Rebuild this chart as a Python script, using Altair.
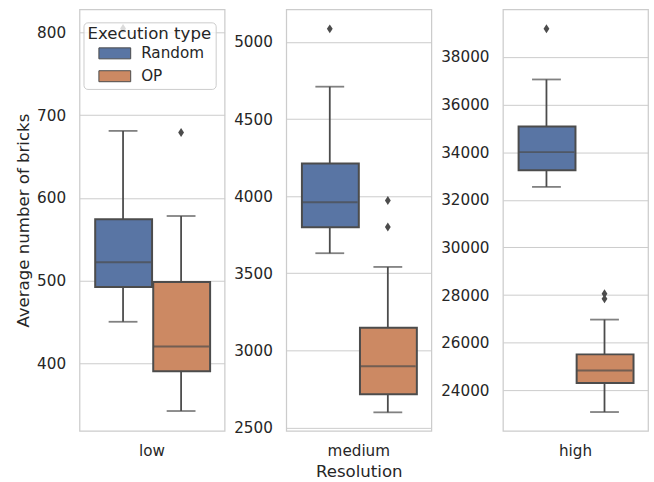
import altair as alt
import pandas as pd

# Resolution levels and execution types
resolutions = ["low", "medium", "high"]
exec_types = ["Random", "OP"]

# Box summaries, one entry per (resolution, execution type)
box_resolution = ["low", "low", "medium", "medium", "high", "high"]
box_type = ["Random", "OP", "Random", "OP", "Random", "OP"]
whisker_low = [450, 342, 3630, 2598, 32540, 23090]
quartile_1 = [492, 390, 3798, 2716, 33240, 24310]
median = [522, 420, 3960, 2897, 34000, 24830]
quartile_3 = [574, 498, 4212, 3147, 35080, 25510]
whisker_high = [681, 578, 4710, 3541, 37050, 26970]

# Outliers beyond the whiskers
outlier_resolution = ["low", "low", "medium", "medium", "medium", "high", "high", "high"]
outlier_type = ["Random", "OP", "Random", "OP", "OP", "Random", "OP", "OP"]
outlier_value = [805, 679, 5085, 3972, 3800, 39180, 28060, 27840]

# Per-panel y range and tick values
y_domain = {"low": [318, 828], "medium": [2478, 5211], "high": [22300, 39990]}
y_ticks = {
    "low": [400, 500, 600, 700, 800],
    "medium": [2500, 3000, 3500, 4000, 4500, 5000],
    "high": [24000, 26000, 28000, 30000, 32000, 34000, 36000, 38000],
}

box_colors = ["#5975a4", "#cc8963"]
LINE = "#4c4c4c"
TEXT = "#262626"
FONT = "DejaVu Sans"

boxes_df = pd.DataFrame({
    "Resolution": box_resolution,
    "Execution type": box_type,
    "lo": whisker_low,
    "q1": quartile_1,
    "med": median,
    "q3": quartile_3,
    "hi": whisker_high,
})
outliers_df = pd.DataFrame({
    "Resolution": outlier_resolution,
    "Execution type": outlier_type,
    "value": outlier_value,
})

DIAMOND = "M0,-1L0.65,0L0,1L-0.65,0Z"
LEGEND_RECT = "M-2,-0.69L2,-0.69L2,0.69L-2,0.69Z"


def panel(res, first, x_title):
    x = alt.X(
        "Resolution:N",
        scale=alt.Scale(paddingInner=0, paddingOuter=0.125),
        axis=alt.Axis(
            title=x_title if x_title else None,
            labelAngle=0, ticks=False, domain=False, grid=False,
            labelPadding=13, labelFontSize=15.3, labelFont=FONT, labelColor=TEXT,
            titleFontSize=16.7, titleFont=FONT, titleColor=TEXT,
            titleFontWeight="normal", titlePadding=5,
        ),
    )
    xo = alt.XOffset(
        "Execution type:N",
        sort=exec_types,
        scale=alt.Scale(domain=exec_types, paddingInner=0, paddingOuter=0),
    )
    y_scale = alt.Scale(domain=y_domain[res], nice=False, zero=False)
    y_axis = alt.Axis(
        title="Average number of bricks" if first else None,
        values=y_ticks[res], format="d", ticks=False, tickSize=0, domain=False, grid=True,
        gridColor="#cccccc", gridWidth=1,
        labelPadding=14, labelFontSize=15.3, labelFont=FONT, labelColor=TEXT,
        titleFontSize=16.7, titleFont=FONT, titleColor=TEXT,
        titleFontWeight="normal", titlePadding=4,
    )
    if first:
        legend = alt.Legend(
            title="Execution type", orient="none", legendX=4, legendY=13,
            titleFontSize=16.7, titleFont=FONT, titleColor=TEXT, titleFontWeight="normal",
            labelFontSize=15.3, labelFont=FONT, labelColor=TEXT,
            fillColor="rgba(255,255,255,0.8)", strokeColor="#cccccc",
            cornerRadius=4, padding=4,
            symbolType=LEGEND_RECT, symbolSize=256, symbolStrokeColor=LINE,
            symbolStrokeWidth=1, symbolOffset=19, symbolOpacity=1,
            labelOffset=18, rowPadding=6, titlePadding=2,
        )
    else:
        legend = None
    color = alt.Color(
        "Execution type:N",
        scale=alt.Scale(domain=exec_types, range=box_colors),
        legend=legend,
    )

    base = alt.Chart(boxes_df).transform_filter(alt.datum.Resolution == res)

    whiskers = base.mark_rule(color=LINE, strokeWidth=1.8).encode(
        x=x, xOffset=xo,
        y=alt.Y("lo:Q", scale=y_scale, axis=y_axis), y2="hi:Q",
    )
    caps_lo = base.mark_tick(color=LINE, size=29, thickness=1.8).encode(
        x=x, xOffset=xo, y=alt.Y("lo:Q", scale=y_scale)
    )
    caps_hi = base.mark_tick(color=LINE, size=29, thickness=1.8).encode(
        x=x, xOffset=xo, y=alt.Y("hi:Q", scale=y_scale)
    )
    boxes = base.mark_bar(
        stroke=LINE, strokeWidth=2, width=alt.RelativeBandSize(0.98), opacity=1
    ).encode(
        x=x, xOffset=xo,
        y=alt.Y("q1:Q", scale=y_scale), y2="q3:Q",
        color=color,
    )
    medians = base.mark_tick(color=LINE, size=56, thickness=2).encode(
        x=x, xOffset=xo, y=alt.Y("med:Q", scale=y_scale)
    )
    fliers = (
        alt.Chart(outliers_df)
        .transform_filter(alt.datum.Resolution == res)
        .mark_point(shape=DIAMOND, size=81, filled=True, color=LINE, opacity=1)
        .encode(x=x, xOffset=xo, y=alt.Y("value:Q", scale=y_scale))
    )
    return alt.layer(whiskers, caps_lo, caps_hi, boxes, medians, fliers).properties(
        width=146, height=424
    )


chart = (
    alt.hconcat(
        panel("low", True, None),
        panel("medium", False, "Resolution"),
        panel("high", False, None),
        spacing=7,
    )
    .resolve_scale(y="independent", color="independent")
    .configure_view(stroke="#cccccc", strokeWidth=1.25)
    .properties(padding={"left": 15, "top": 7, "right": 5, "bottom": 2}, background="white")
)

chart.save("out.html", embed_options={"renderer": "svg", "actions": False})
